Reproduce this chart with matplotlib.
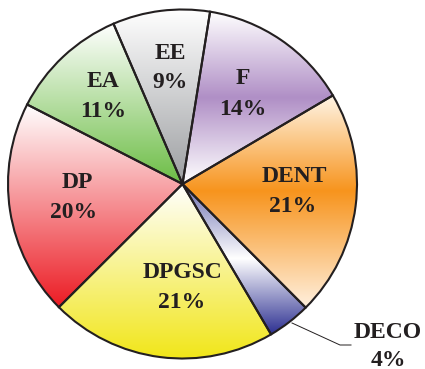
import numpy as np
import matplotlib
matplotlib.use("Agg")
import matplotlib.pyplot as plt
from matplotlib.colors import to_rgb

# Share of each category (percent), clockwise from the top
categories = ["EE", "F", "DENT", "DECO", "DPGSC", "DP", "EA"]
shares = [9, 14, 21, 4, 21, 20, 11]

# Vertical colour ramps per slice: (position top->bottom, colour)
ramps = [
    [(0.0, "#ffffff"), (1.0, "#9c9ea1")],
    [(0.0, "#ffffff"), (0.5, "#b08fc6"), (1.0, "#ffffff")],
    [(0.0, "#fff5e6"), (0.45, "#f7941d"), (1.0, "#fff0de")],
    [(0.0, "#6a6db0"), (0.5, "#ffffff"), (1.0, "#2e3192")],
    [(0.0, "#ffffff"), (1.0, "#f1e61a")],
    [(0.0, "#ffffff"), (1.0, "#ec1c24")],
    [(0.0, "#ffffff"), (1.0, "#6cbd45")],
]

W, H = 425, 369
CX, CY, R = 182.5, 184.0, 174.5
INK = "#231f20"


def px(x, y):
    """Pixel position (from top-left) to axes data coordinates."""
    return (x - CX) / R, (CY - y) / R


fig = plt.figure(figsize=(W / 100, H / 100), dpi=100)
ax = fig.add_axes([0, 0, 1, 1])

wedges, _ = ax.pie(
    shares,
    startangle=113.3,
    counterclock=False,
    radius=1.0,
    wedgeprops=dict(facecolor="none", edgecolor=INK, linewidth=1.5, zorder=3),
)

ax.set_xlim(-CX / R, (W - CX) / R)
ax.set_ylim(-(H - CY) / R, CY / R)
ax.set_aspect("auto")
ax.axis("off")


def ramp_image(stops, n=256):
    pos = np.array([s[0] for s in stops])
    cols = np.array([to_rgb(s[1]) for s in stops])
    t = np.linspace(0, 1, n)
    rgb = np.stack([np.interp(t, pos, cols[:, k]) for k in range(3)], axis=-1)
    return rgb[:, None, :]


for w, stops in zip(wedges, ramps):
    th = np.radians(np.linspace(w.theta1, w.theta2, 200))
    xs = np.concatenate([[w.center[0]], w.center[0] + w.r * np.cos(th)])
    ys = np.concatenate([[w.center[1]], w.center[1] + w.r * np.sin(th)])
    img = ramp_image(stops)
    im = ax.imshow(img, extent=[xs.min(), xs.max(), ys.min(), ys.max()],
                   origin="upper", aspect="auto", interpolation="bilinear",
                   zorder=2)
    im.set_clip_path(w)

# Label placement (pixel centres of name line and percent line)
label_pos = [
    ((170, 54), (170, 83)),
    ((243, 79), (243, 110)),
    ((294, 177), (293, 207)),
    ((388, 332), (388, 360)),
    ((182, 273), (182, 303)),
    ((77, 183), (74, 213)),
    ((103, 82), (103, 112)),
]

font = dict(family=["Liberation Serif", "DejaVu Serif"], weight="bold",
            size=17, color=INK, ha="center", va="center", zorder=5)
for name, val, (p1, p2) in zip(categories, shares, label_pos):
    ax.text(*px(*p1), name, **font)
    ax.text(*px(*p2), f"{val}%", **font)

# Leader line for the small DECO slice
lx, ly = zip(px(292, 323), px(340, 345), px(351, 345))
ax.plot(lx, ly, color=INK, linewidth=0.7, zorder=4, clip_on=False)

fig.savefig("out.png", dpi=100)
